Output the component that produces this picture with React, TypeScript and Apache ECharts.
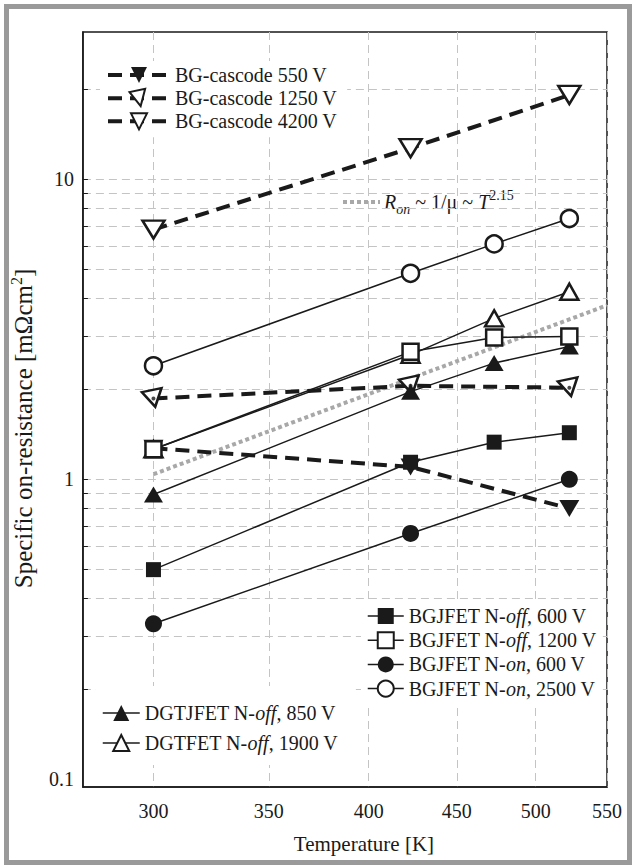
import React, { useEffect, useRef } from 'react';
import * as echarts from 'echarts';

const FONT = '"Liberation Serif", "Times New Roman", serif';
const INK = '#1a1a1a';
const GRID_GRAY = '#c4c4c4';
const FIT_GRAY = '#a8a8a8';

// Temperatures [K]
const tempsFull = [300, 423, 473, 523];
const tempsThree = [300, 423, 523];
const tempsFit = [300, 550];

// Specific on-resistance [mOhm cm^2]
const bgjfetOff600 = [0.5, 1.14, 1.33, 1.43];
const bgjfetOff1200 = [1.26, 2.66, 2.97, 2.99];
const bgjfetOn600 = [0.33, 0.66, 1.0];
const bgjfetOn2500 = [2.39, 4.86, 6.09, 7.4];
const dgtjfetOff850 = [0.89, 1.96, 2.44, 2.77];
const dgtfetOff1900 = [1.26, 2.6, 3.44, 4.22];
const cascode550 = [1.27, 1.1, 0.8];
const cascode1250 = [1.86, 2.05, 2.02];
const cascode4200 = [6.8, 12.7, 19.1];
const mobilityFit = [1.04, 3.8];

// Axis ticks
const xTicks = [300, 350, 400, 450, 500, 550];
const yGridValues = [0.2, 0.3, 0.4, 0.5, 0.6, 0.7, 0.8, 0.9, 1, 2, 3, 4, 5, 6, 7, 8, 9, 10, 20];
const yLabelValues = [0.1, 1, 10];

const topLegendNames = ['BG-cascode 550 V', 'BG-cascode 1250 V', 'BG-cascode 4200 V'];
const rightLegendNames = ['BGJFET N-off, 600 V', 'BGJFET N-off, 1200 V', 'BGJFET N-on, 600 V', 'BGJFET N-on, 2500 V'];
const leftLegendNames = ['DGTJFET N-off, 850 V', 'DGTFET N-off, 1900 V'];

const pairs = (ts: number[], vs: number[]) => ts.map((t, i) => [t, vs[i]]);

const filled = { color: INK, borderColor: INK, borderWidth: 0 };
const open = { color: '#ffffff', borderColor: INK, borderWidth: 2.5 };

function solid(name: string, ts: number[], vs: number[], symbol: string, size: any, style: any, rotate = 0) {
  return {
    type: 'line', name, data: pairs(ts, vs), symbol, symbolSize: size, symbolRotate: rotate,
    showAllSymbol: true, itemStyle: style,
    lineStyle: { color: INK, width: 1.5, type: 'solid' }, z: 3,
  };
}

function dashed(name: string, ts: number[], vs: number[], size: any, style: any, rotate: number) {
  return {
    type: 'line', name, data: pairs(ts, vs), symbol: 'triangle', symbolSize: size, symbolRotate: rotate,
    showAllSymbol: true, itemStyle: style,
    lineStyle: { color: INK, width: 4, type: [14, 8] }, z: 3,
  };
}

const legendText = {
  fontFamily: FONT, fontSize: 20, color: INK, lineHeight: 20,
  rich: { i: { fontFamily: FONT, fontSize: 20, fontStyle: 'italic', color: INK, lineHeight: 20 } },
};
const fmtLegend = (n: string) => n.replace(/N-(off|on)/, 'N-{i|$1}');

export default function App() {
  const ref = useRef<HTMLDivElement>(null);
  useEffect(() => {
    const chart = echarts.init(ref.current as HTMLDivElement, null, { renderer: 'svg' });
    const option: any = {
      animation: false,
      backgroundColor: '#ffffff',
      textStyle: { fontFamily: FONT },
      grid: { left: 81, top: 32, right: 27, bottom: 79, show: true, borderColor: INK, borderWidth: 1.5, backgroundColor: 'transparent' },
      xAxis: {
        type: 'log', logBase: 10, min: 273, max: 550,
        axisLine: { show: true, lineStyle: { color: INK, width: 1.5 } },
        axisTick: { show: false, customValues: xTicks },
        axisLabel: { customValues: xTicks, formatter: (v: number) => String(Math.round(v)), fontFamily: FONT, fontSize: 20, color: INK, margin: 14 },
        splitLine: { show: true, lineStyle: { color: GRID_GRAY, type: [8, 5], width: 1 } },
        minorTick: { show: false }, minorSplitLine: { show: false },
        name: 'Temperature [K]', nameLocation: 'middle', nameGap: 46,
        nameTextStyle: { fontFamily: FONT, fontSize: 21, color: INK, padding: [0, 0, 0, 38] },
      },
      yAxis: {
        type: 'log', logBase: 10, min: 0.0943, max: 30.97,
        axisLine: { show: true, lineStyle: { color: INK, width: 1.5 } },
        axisTick: { show: true, inside: true, length: 5, customValues: yGridValues, lineStyle: { color: INK, width: 1 } },
        axisLabel: { customValues: yLabelValues, formatter: (v: number) => String(+Number(v).toPrecision(3)), fontFamily: FONT, fontSize: 20, color: INK, margin: 9 },
        splitLine: { show: true, lineStyle: { color: GRID_GRAY, type: [8, 5], width: 1 } },
        minorTick: { show: false }, minorSplitLine: { show: false },
        name: 'Specific on-resistance [mΩcm{sup|2}]', nameLocation: 'middle', nameGap: 42, nameRotate: 90,
        nameTextStyle: {
          fontFamily: FONT, fontSize: 25, color: INK, lineHeight: 30, padding: [0, 38, 0, 0],
          rich: { sup: { fontFamily: FONT, fontSize: 16, lineHeight: 15, verticalAlign: 'top', color: INK } },
        },
      },
      legend: [
        {
          data: topLegendNames, orient: 'vertical', left: 100, top: 61, itemWidth: 62, itemHeight: 20, itemGap: 2.5,
          padding: [4, 10, 6, 6], backgroundColor: '#ffffff', textStyle: legendText, formatter: fmtLegend,
          lineStyle: { width: 4 }, selectedMode: false,
        },
        {
          data: rightLegendNames, orient: 'vertical', left: 361, top: 602, itemWidth: 36, itemHeight: 20, itemGap: 4.2,
          padding: [4, 4, 6, 6], backgroundColor: '#ffffff', textStyle: legendText, formatter: fmtLegend,
          lineStyle: { width: 1.5 }, selectedMode: false,
        },
        {
          data: leftLegendNames, orient: 'vertical', left: 96, top: 686, itemWidth: 37, itemHeight: 20, itemGap: 10,
          padding: [17, 14, 12, 6], backgroundColor: '#ffffff', textStyle: legendText, formatter: fmtLegend,
          lineStyle: { width: 1.5 }, selectedMode: false,
        },
      ],
      series: [
        {
          type: 'line', name: 'Ron ~ T^2.15', data: pairs(tempsFit, mobilityFit), symbol: 'none',
          lineStyle: { color: FIT_GRAY, width: 4, type: [4, 3], cap: 'butt' }, z: 2,
        },
        dashed('BG-cascode 550 V', tempsThree, cascode550, [20, 17], filled, 180),
        dashed('BG-cascode 1250 V', tempsThree, cascode1250, [20, 17], open, 192),
        {
          type: 'scatter', name: 'cascode-1250-dot', data: pairs(tempsThree, cascode1250), symbol: 'circle', symbolSize: 4,
          itemStyle: { color: INK }, z: 5, silent: true,
        },
        dashed('BG-cascode 4200 V', tempsThree, cascode4200, [22, 18], open, 180),
        solid('DGTFET N-off, 1900 V', tempsFull, dgtfetOff1900, 'triangle', [18, 16], open),
        solid('DGTJFET N-off, 850 V', tempsFull, dgtjfetOff850, 'triangle', [19, 16], filled),
        solid('BGJFET N-off, 1200 V', tempsFull, bgjfetOff1200, 'rect', 16, open),
        solid('BGJFET N-off, 600 V', tempsFull, bgjfetOff600, 'rect', 15, filled),
        solid('BGJFET N-on, 600 V', tempsThree, bgjfetOn600, 'circle', 17, filled),
        solid('BGJFET N-on, 2500 V', tempsFull, bgjfetOn2500, 'circle', 17, open),
      ],
      graphic: [
        {
          type: 'group', z: 50, silent: true,
          children: [
            { type: 'rect', shape: { x: 338, y: 188, width: 198, height: 28 }, style: { fill: '#ffffff' } },
            { type: 'line', shape: { x1: 343, y1: 202, x2: 380, y2: 202 }, style: { stroke: FIT_GRAY, lineWidth: 4, lineDash: [4, 3] } },
            {
              type: 'text', x: 384, y: 202,
              style: {
                text: '{it|R}{sub|on} ~ 1/μ ~ {it|T}{sup|2.15}',
                fontFamily: FONT, fontSize: 20, fill: INK, verticalAlign: 'middle', lineHeight: 28,
                rich: {
                  it: { fontFamily: FONT, fontSize: 20, fontStyle: 'italic', fill: INK, lineHeight: 28 },
                  sub: { fontFamily: FONT, fontSize: 14, fontStyle: 'italic', fill: INK, lineHeight: 14, verticalAlign: 'bottom' },
                  sup: { fontFamily: FONT, fontSize: 14, fill: INK, lineHeight: 14, verticalAlign: 'top' },
                },
              },
            },
          ],
        },
        {
          type: 'rect', z: 60, silent: true,
          shape: { x: 6.5, y: 6.5, width: 623, height: 856 },
          style: { fill: 'none', stroke: '#9a9a9a', lineWidth: 5 },
        },
      ],
    };
    chart.setOption(option);
    return () => chart.dispose();
  }, []);
  return <div ref={ref} style={{ position: 'absolute', left: 0, top: 0, width: 634, height: 866, background: '#ffffff' }} />;
}
